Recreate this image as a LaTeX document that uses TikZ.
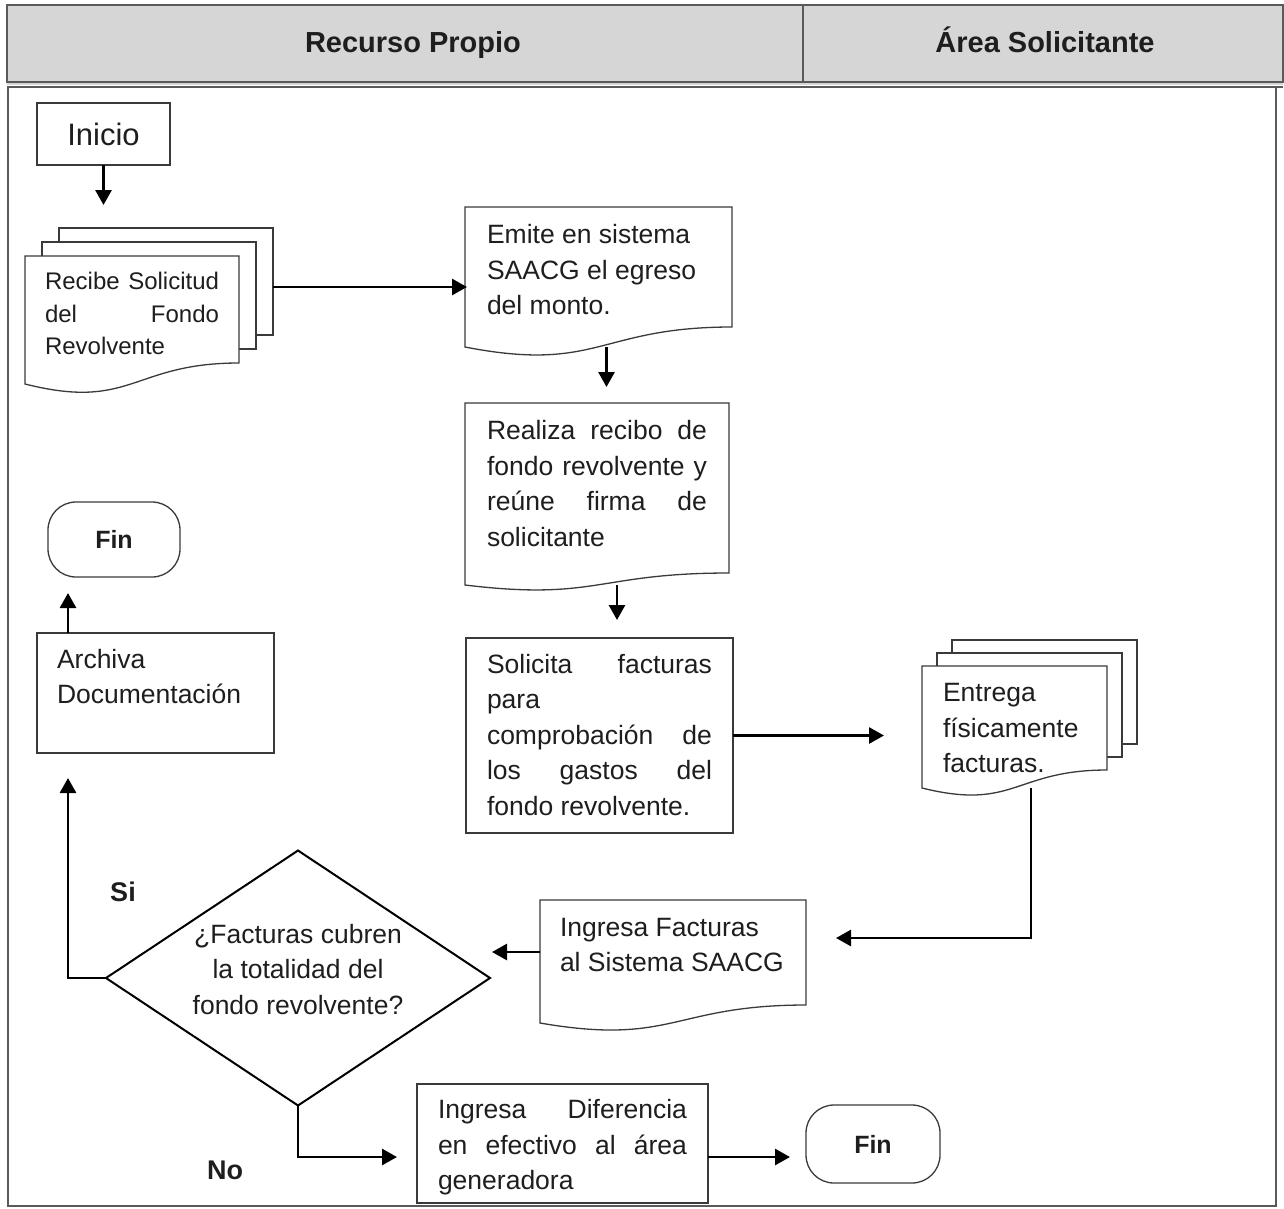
\documentclass[tikz,border=0pt]{standalone}
\usepackage{fontspec}
\setmainfont{Liberation Sans}
\usetikzlibrary{arrows.meta,shapes.geometric,backgrounds}

\definecolor{ink}{HTML}{1E1E1E}
\definecolor{edge}{HTML}{3A3A3A}
\definecolor{band}{HTML}{D6D6D6}
\definecolor{rule}{HTML}{5A5A5A}

% text block of fixed width and height, set from the top
\newcommand\flowtext[3]{\parbox[t][#2pt][t]{#1pt}{\strut #3}}

% document symbol around a node: right corner raised by #2, wavy bottom sag #3
\newcommand\docoutline[3]{%
  \draw[docline] (#1.north west) -- (#1.north east)
    -- ([shift={(0,-#2)}]#1.south east)
    .. controls ([shift={(0,-#2)}]#1.south) and ([shift={(0,#3)}]#1.south) .. (#1.south west)
    -- cycle;}

% sheet behind a document symbol, offset by (#2,#3), bottom at the raised corner #4
\newcommand\backsheet[4]{%
  \draw[docline] ([shift={(#2,#3)}]#1.north west) rectangle ([shift={(#2,#3-#4)}]#1.south east);}

\begin{document}
\begin{tikzpicture}[x=1pt,y=-1pt,
  every node/.style={outer sep=0pt, text=ink},
  body/.style={font=\fontsize{26.5}{35.5}\selectfont},
  boxed/.style={draw=edge, line width=1.3pt},
  docline/.style={draw=edge, line width=1.3pt, fill=white},
  arr/.style={-{Triangle[length=15pt,width=16pt]}, line width=2.8pt, draw=black},
  lbl/.style={font=\fontsize{27}{30}\selectfont\bfseries},
  term/.style={draw=edge, line width=1.3pt, rounded corners=28pt,
    font=\fontsize{25}{30}\selectfont\bfseries},
  head/.style={font=\fontsize{29}{32}\selectfont\bfseries, anchor=base}]

\useasboundingbox (0,0) rectangle (1284,1208);

% lane header and frame
\fill[band] (7,5) rectangle (1283,85);
\draw[rule, line width=1.5pt] (7,5) rectangle (1283,82);
\draw[rule, line width=1.5pt] (7,87) -- (1283,87);
\draw[rule, line width=1.2pt] (803,5) -- (803,82);
\draw[rule, line width=1.5pt] (8,87) -- (8,1206) -- (1276,1206) -- (1276,87);

\node[head] (laneA) at (413,52) {Recurso Propio};
\node[head] (laneB) at (1045,52) {Área Solicitante};

% steps
\node[boxed, minimum width=133pt, minimum height=62pt,
  font=\fontsize{31}{36}\selectfont] (inicio) at (103.5,134) {Inicio};

\node[anchor=north west, inner xsep=20pt, inner ysep=11pt,
  font=\fontsize{24}{32.5}\selectfont] (recibe) at (25,256)
  {\flowtext{174}{106}{Recibe\hfill Solicitud\\ del\hfill Fondo\\ Revolvente}};

\node[anchor=north west, inner xsep=22pt, inner ysep=12pt, body] (emite) at (465,207)
  {\flowtext{223}{116}{Emite en sistema\\ SAACG el egreso\\ del monto.}};

\node[anchor=north west, inner xsep=22pt, inner ysep=12pt, body] (realiza) at (465,403)
  {\flowtext{220}{158}{Realiza\hfill recibo\hfill de\\ fondo\hfill revolvente\hfill y\\ reúne\hfill firma\hfill de\\ solicitante}};

\node[boxed, anchor=north west, inner xsep=21pt, inner ysep=10.5pt, body] (solicita) at (466,638)
  {\flowtext{225}{174}{Solicita\hfill facturas\\ para\\ comprobación\hfill de\\ los\hfill gastos\hfill del\\ fondo revolvente.}};

\node[anchor=north west, inner xsep=21pt, inner ysep=11pt, body] (entrega) at (922,666)
  {\flowtext{143}{100}{Entrega\\ físicamente\\ facturas.}};

\node[anchor=north west, inner xsep=20pt, inner ysep=11.5pt, body] (ingf) at (540,900)
  {\flowtext{226}{100}{Ingresa Facturas\\ al Sistema SAACG}};

\node[diamond, draw=black, line width=2pt, minimum width=384pt, minimum height=255pt,
  inner sep=0pt, body] (dia) at (298,978)
  {\makebox[0pt]{\smash{\begin{tabular}{@{}c@{}}¿Facturas cubren\\ la totalidad del\\ fondo revolvente?\end{tabular}}}};

\node[boxed, anchor=north west, inner xsep=20pt, inner ysep=10.5pt, body] (archiva) at (37,633)
  {\flowtext{197}{99}{Archiva\\ Documentación}};

\node[boxed, anchor=north west, inner xsep=21pt, inner ysep=10pt, body] (dif) at (417,1084)
  {\flowtext{249}{99}{Ingresa\hfill Diferencia\\ en\hfill efectivo\hfill al\hfill área\\ generadora}};

\node[term, minimum width=132pt, minimum height=75pt] (fin1) at (114,539.5) {Fin};
\node[term, minimum width=134pt, minimum height=78pt] (fin2) at (873,1144) {Fin};

\node[lbl] (si) at (123,892) {Si};
\node[lbl] (no) at (225,1170) {No};

% document outlines behind their texts
\begin{scope}[on background layer]
  \backsheet{recibe}{34}{-28}{21}
  \backsheet{recibe}{17}{-14}{21}
  \docoutline{recibe}{21}{27}
  \docoutline{emite}{20}{26}
  \docoutline{realiza}{12}{16}
  \backsheet{entrega}{30}{-26}{18}
  \backsheet{entrega}{15}{-13}{18}
  \docoutline{entrega}{18}{23}
  \docoutline{ingf}{18}{23}
\end{scope}

% connectors
\draw[arr, shorten >=51pt] (inicio.south) -- (inicio.south |- recibe.north);
\draw[arr, shorten >=32pt] ([shift={(34,-33)}]recibe.east) -- ([shift={(34,-33)}]recibe.east -| emite.west);
\draw[arr, shorten >=16pt] ([xshift=8pt]emite.south) -- ([xshift=8pt]emite.south |- realiza.north);
\draw[arr, shorten >=18pt] ([xshift=20pt]realiza.south) -- ([xshift=20pt]realiza.south |- solicita.north);
\draw[arr, shorten >=38pt] (solicita.east) -- (solicita.east -| entrega.west);
\draw[arr, shorten >=30pt] ([xshift=16.5pt]entrega.south) |- ([shift={(0,-23.5)}]ingf.east);
\draw[arr, shorten >=2pt] ([shift={(0,-9.5)}]ingf.west) -- ([shift={(0,-9.5)}]ingf.west -| dia.east);
\draw[arr, shorten >=25pt] (dia.west) -| ([xshift=-87.5pt]archiva.south);
\draw[arr, shorten >=16pt] ([xshift=-87.5pt]archiva.north) -- ([xshift=-87.5pt]archiva.north |- fin1.south);
\draw[arr, shorten >=20pt] (dia.south) |- ([shift={(0,13.5)}]dif.west);
\draw[arr, shorten >=16pt] ([shift={(0,13.5)}]dif.east) -- ([shift={(0,13.5)}]dif.east -| fin2.west);

\end{tikzpicture}
\end{document}
